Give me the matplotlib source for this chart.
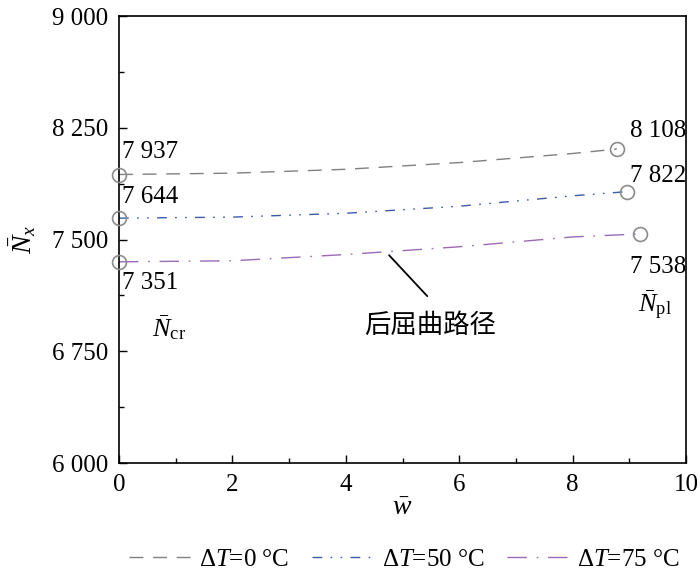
import matplotlib
matplotlib.use("Agg")
import matplotlib.pyplot as plt
from matplotlib.ticker import MultipleLocator, FuncFormatter

plt.rcParams['font.family'] = ['Liberation Serif', 'Noto Sans CJK SC', 'DejaVu Sans']
plt.rcParams['mathtext.fontset'] = 'custom'
plt.rcParams['mathtext.rm'] = 'Liberation Serif'
plt.rcParams['mathtext.it'] = 'Liberation Serif:italic'

# curves (w-bar vs N-bar_x)
w_0 = [0, 2, 4, 6, 8, 8.78]
n_0 = [7937, 7946, 7972, 8017, 8078, 8108]
w_50 = [0, 2, 4, 6, 8, 8.96]
n_50 = [7644, 7651, 7677, 7724, 7794, 7822]
w_75 = [0, 2, 4, 6, 8, 9.19]
n_75 = [7351, 7358, 7400, 7452, 7518, 7538]

labels = [r"Δ$T$=0 °C", r"Δ$T$=50 °C", r"Δ$T$=75 °C"]
colors = ["#808080", "#3b5ba8", "#9a6ab4"]
dashes = [(0, (10, 7)), (0, (7, 6, 1.2, 6, 1.2, 6)), (0, (14, 7, 1.2, 7))]

fig = plt.figure(figsize=(7, 5.76), dpi=100)
ax = fig.add_axes([0.170, 0.196, 0.810, 0.776])

series = [(w_0, n_0), (w_50, n_50), (w_75, n_75)]
for (ws, ns), lab, col, ls in zip(series, labels, colors, dashes):
    ax.plot(ws, ns, color=col, linestyle=ls, lw=1.0, label=lab)
    # critical (start) and plastic (end) points
    ax.plot([ws[0], ws[-1]], [ns[0], ns[-1]], 'o', ms=10, mfc='none',
            mec='#8c8c8c', mew=1.2, clip_on=False, zorder=5)

fs = 18
fmt = lambda v: f"{int(v):,}".replace(",", " ")

# value labels at start / end of each curve (offsets in points)
start_dy = [16, 15, -15]
end_dy = [13, 11, -24]
for (ws, ns), dy in zip(series, start_dy):
    ax.annotate(fmt(ns[0]), (ws[0], ns[0]), xytext=(2, dy),
                textcoords='offset points', fontsize=fs, ha='left', va='center')
for (ws, ns), dy in zip(series, end_dy):
    ax.annotate(fmt(ns[-1]), (10, ns[-1]), xytext=(0, dy),
                textcoords='offset points', fontsize=fs, ha='right', va='center')

ax.text(0.58, 6913, r"$\bar{N}_{\rm cr}$", fontsize=19, ha='left', va='center')
ax.text(9.75, 7060, r"$\bar{N}_{\rm pl}$", fontsize=19, ha='right', va='center')

ax.annotate("", xy=(4.73, 7409), xytext=(5.47, 7107),
            arrowprops=dict(arrowstyle='-', color='black', lw=1.3))
ax.text(5.48, 6926, "后屈曲路径", fontsize=19, ha='center', va='center',
        family=['Noto Sans CJK SC'])

ax.set_xlim(0, 10)
ax.set_ylim(6000, 9000)
ax.xaxis.set_major_locator(MultipleLocator(2))
ax.xaxis.set_minor_locator(MultipleLocator(1))
ax.yaxis.set_major_locator(MultipleLocator(750))
ax.yaxis.set_minor_locator(MultipleLocator(375))
ax.yaxis.set_major_formatter(FuncFormatter(lambda v, p: fmt(v)))
ax.tick_params(which='both', direction='in', top=False, right=False, labelsize=fs)
ax.tick_params(which='major', length=6, width=1.0, pad=8)
ax.tick_params(which='minor', length=3.5, width=1.0)
for s in ax.spines.values():
    s.set_linewidth(1.2)

ax.set_xlabel(r"$\bar{w}$", fontsize=20, labelpad=0)
ax.set_ylabel(r"$\bar{N}_x$", fontsize=20, labelpad=10)

fig.legend(loc='center', bbox_to_anchor=(0.578, 0.028), ncol=3, frameon=False,
           fontsize=fs, handlelength=2.5, columnspacing=0.9, handletextpad=0.3)

fig.savefig("out.png", dpi=100)
